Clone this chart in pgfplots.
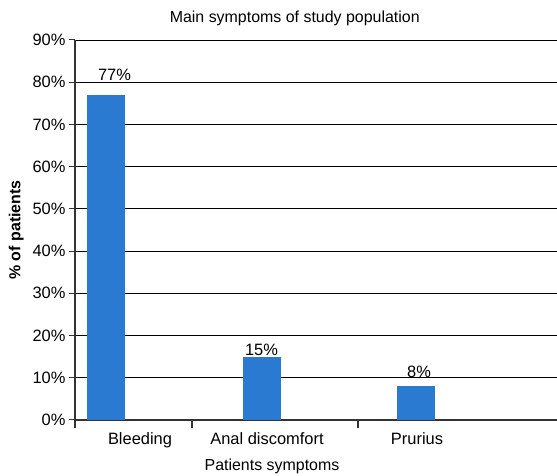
\documentclass[border=0pt]{standalone}
\usepackage{pgfplots}
\pgfplotsset{compat=1.18}
\usepackage{fontspec}
\setmainfont{Liberation Sans}
\definecolor{barblue}{HTML}{2A7AD2}
\begin{document}
\begin{tikzpicture}
\begin{axis}[
  scale only axis,
  width=484bp, height=380bp,
  xmin=75, xmax=559,
  ymin=0, ymax=90,
  axis lines=left,
  axis line style={-, line width=1.2pt, color=black!80},
  ytick={0,10,...,90},
  yticklabel={\pgfmathprintnumber{\tick}\%},
  /pgf/number format/assume math mode=true,
  ymajorgrids,
  grid style={black, line width=0.8pt},
  major tick length=6pt,
  tick align=outside,
  tick style={black!80, line width=1pt},
  xtick={140,267,417},
  xticklabels={Bleeding, Anal discomfort, Prurius},
  x tick style={draw=none},
  xticklabel style={yshift=-3pt},
  ticklabel style={font=\fontsize{16.5}{19}\selectfont},
  title={Main symptoms of study population},
  title style={font=\fontsize{16}{18}\selectfont, at={(rel axis cs:0.454,1)}, anchor=south, yshift=5pt},
  ylabel={\textbf{\% of patients}},
  ylabel style={font=\fontsize{16}{18}\selectfont, at={(rel axis cs:0,0.5)}, anchor=south, yshift=48pt},
  xlabel={Patients symptoms},
  xlabel style={font=\fontsize{16}{18}\selectfont, at={(rel axis cs:0.407,0)}, anchor=north, yshift=-36pt},
  nodes near coords={\pgfmathprintnumber{\pgfplotspointmeta}\%},
  nodes near coords style={font=\fontsize{16.5}{19}\selectfont, anchor=south, inner sep=0pt},
  clip=false,
]
\addplot[ybar, bar width=38, fill=barblue, draw=none, nodes near coords style={yshift=14pt, xshift=8pt}] coordinates {(106.5,77)};
\addplot[ybar, bar width=38, fill=barblue, draw=none, nodes near coords style={yshift=1pt}] coordinates {(261.5,15)};
\addplot[ybar, bar width=38, fill=barblue, draw=none, nodes near coords style={yshift=8pt, xshift=3pt}] coordinates {(416,8)};
\draw[black!80, line width=1.2pt] (axis cs:75,0) -- ++(0pt,-8pt);
\draw[black!80, line width=1.2pt] (axis cs:192,0) -- ++(0pt,-8pt);
\draw[black!80, line width=1.2pt] (axis cs:358,0) -- ++(0pt,-8pt);
\coordinate (BL) at (rel axis cs:0,0);
\coordinate (TR) at (axis cs:557,90);
\end{axis}
\pgfresetboundingbox
\path (BL) +(-75bp,-56bp) (TR) +(0bp,40bp);
\end{tikzpicture}
\end{document}
